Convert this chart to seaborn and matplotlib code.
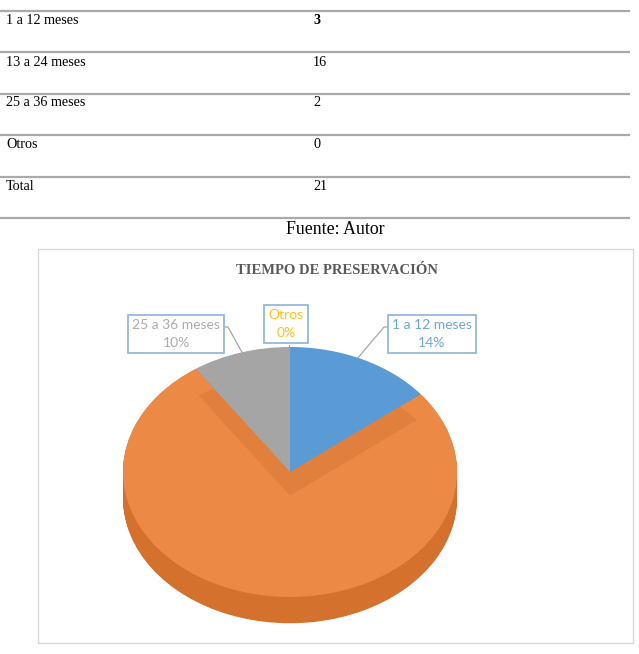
import matplotlib
matplotlib.use("Agg")
import matplotlib.pyplot as plt
from matplotlib.patches import Rectangle
import seaborn as sns
import numpy as np

# ---- data ----
categories = ["1 a 12 meses", "13 a 24 meses", "25 a 36 meses", "Otros"]
counts = [3, 16, 2, 0]
table_labels = ["1 a 12 meses", "13 a 24 meses", "25 a 36 meses", "Otros", "Total"]
table_values = ["3", "16", "2", "0", "21"]
title = "TIEMPO DE PRESERVACIÓN"
source = "Fuente: Autor"

sns.set_theme(style="white")
plt.rcParams['font.family'] = ['Liberation Serif', 'DejaVu Serif']

top_colors = ["#5B9BD5", "#EC8944", "#A5A5A5", "#FFC000"]
side_colors = ["#4A84BC", "#D3712D", "#8E8E8E", "#E0A800"]
strip_color = "#E0803C"
text_colors = ["#6FA6DA", "#EE8A48", "#ABABAB", "#FFC21A"]

W, H = 639, 654
fig = plt.figure(figsize=(W / 100, H / 100), dpi=100)
bg = fig.add_axes([0, 0, 1, 1])
bg.set_xlim(0, W)
bg.set_ylim(H, 0)
bg.axis('off')

# ---- table ----
line_ys = [11, 52, 94, 135, 177, 218]
bg.hlines(line_ys, 0, 630, color="#A9A9A9", lw=1.6)
row_ys = [21, 62, 103, 144, 186]
for y, lab, val in zip(row_ys, table_labels, table_values):
    bg.text(6, y, lab, fontsize=10.2, va='center', ha='left', color='black')
    bg.text(313, y, val, fontsize=10.2, va='center', ha='left', color='black',
            fontweight='bold' if val == table_values[0] else 'normal')
bg.text(335, 230, source, fontsize=12.8, va='center', ha='center', color='black')

# ---- chart frame ----
bg.add_patch(Rectangle((38, 249), 595, 394, fill=False, ec="#D9D9D9", lw=1))
bg.text(337, 271, title, fontsize=10.5, fontweight='bold', color="#595959",
        ha='center', va='center')

# ---- pie axes ----
cx, cy, rx, ry = 290, 472, 167, 125
ylo, yhi = -1.4, 1.1
top_px = cy - yhi * ry
bot_px = cy - ylo * ry
ax = fig.add_axes([(cx - rx) / W, 1 - bot_px / H, 2 * rx / W, (bot_px - top_px) / H])
depth = 0.21

for off in np.linspace(-depth, -0.005, 30):
    ax.pie(counts, colors=side_colors, startangle=90, counterclock=False,
           center=(0, off), radius=1, wedgeprops=dict(linewidth=0))

ax.pie(counts, colors=["none", top_colors[1], "none", "none"], startangle=90,
       counterclock=False, center=(0, 0), radius=1, wedgeprops=dict(linewidth=0))
ax.pie(counts, colors=[strip_color, "none", strip_color, "none"], startangle=90,
       counterclock=False, center=(0, -depth * 0.9), radius=0.97, wedgeprops=dict(linewidth=0))
ax.pie(counts, colors=[top_colors[0], "none", top_colors[2], top_colors[3]], startangle=90,
       counterclock=False, center=(0, 0), radius=1, wedgeprops=dict(linewidth=0))

ax.set_aspect('auto')
ax.set_xlim(-1, 1)
ax.set_ylim(ylo, yhi)
ax.axis('off')

# ---- data labels ----
total = sum(counts)
label_pos = [(432, 334), (281, 537), (176, 334), (286, 324)]
leaders = [[(388, 327), (384, 327), (357, 359)],
           None,
           [(224, 327), (228, 327), (244, 356)],
           [(289, 345), (289, 350)]]
for cat, v, (x, y), col, ld in zip(categories, counts, label_pos, text_colors, leaders):
    if ld is not None:
        xs, ys = zip(*ld)
        bg.plot(xs, ys, color="#A6A6A6", lw=0.9)
    pct = round(100 * v / total)
    bg.text(x, y, f"{cat}\n{pct}%", fontsize=10, family=['Lato', 'DejaVu Sans'],
            color=col, ha='center', va='center', linespacing=1.55,
            bbox=dict(boxstyle='square,pad=0.3', fc='white', ec="#8DB3DA", lw=1.2))

fig.savefig("out.png", dpi=100)
